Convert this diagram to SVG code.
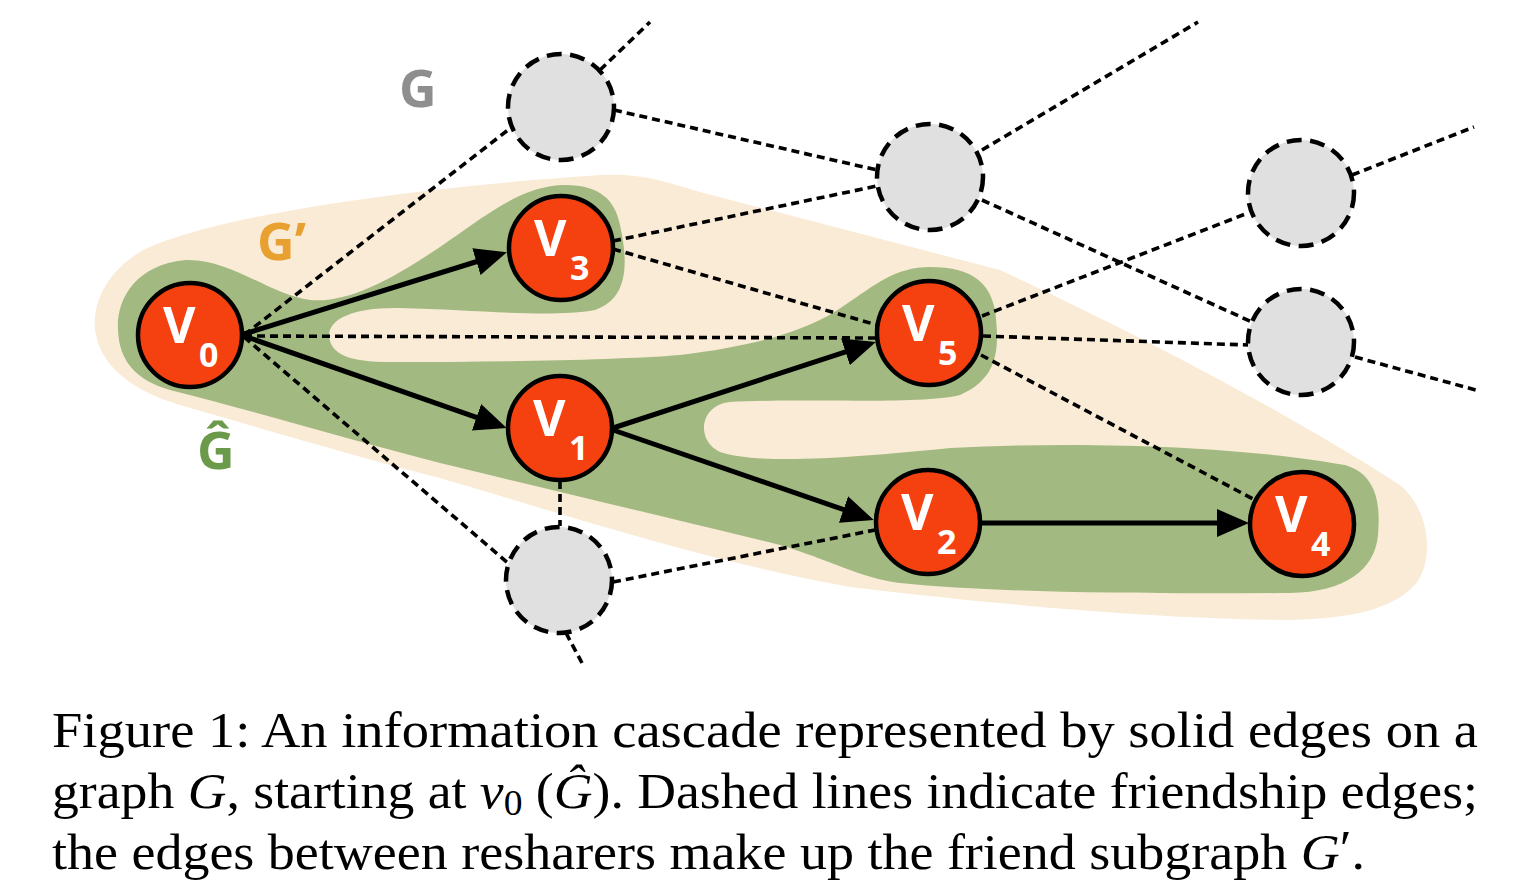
<svg xmlns="http://www.w3.org/2000/svg" width="1540" height="894" viewBox="0 0 1540 894">
<style>
.dash{stroke:#000;stroke-width:3.6;stroke-dasharray:8 5;fill:none}
.solid{stroke:#000;stroke-width:5;fill:none}
.node{fill:#F5410F;stroke:#000;stroke-width:4.5}
.ghost{fill:#E0E0E0;stroke:#000;stroke-width:4.5;stroke-dasharray:15 8.5}
.lbl{font-family:"Open Sans","DejaVu Sans",sans-serif;font-weight:700;font-size:50px;fill:#fff}
.sub{font-size:34px}
.glabel{font-family:"Open Sans","DejaVu Sans",sans-serif;font-weight:700;font-size:52px}
.cap{font-family:"Liberation Serif","Times New Roman",serif;font-size:50px;fill:#000}
.it{font-style:italic}
</style>
<defs>
<marker id="arrow" markerUnits="userSpaceOnUse" markerWidth="32" markerHeight="28" viewBox="0 0 32 28" refX="9" refY="14" orient="auto">
<path d="M0,0 L32,14 L0,28 Z" fill="#000"/>
</marker>
</defs>
<g id="regions">
<path id="region-gprime" fill="#FAEBD6" d="M95,330 C92,300 110,270 140,252 C200,220 380,190 600,175 C640,173 660,180 700,192 L1000,270 C1150,340 1300,420 1400,485 C1430,510 1435,560 1415,585 C1390,612 1340,620 1280,620 C1150,618 1000,605 850,587 C700,560 550,510 440,478 C350,455 250,425 180,405 C130,390 100,365 95,330 Z"/>
<path id="region-ghat" fill="#A2BA81" d="M118,330 C116,300 135,265 185,260 C230,258 270,295 310,300 C350,304 400,275 450,240 C490,212 525,185 565,185 C600,185 615,200 620,225 C630,270 625,300 595,310 C550,318 480,310 400,308 C355,307 330,318 329,335 C330,355 350,362 390,362 C500,362 620,360 680,355 C760,345 810,330 845,305 C875,285 895,267 930,267 C975,267 990,285 995,310 C1000,350 998,378 960,395 C920,405 800,398 730,402 C700,405 695,440 720,452 C760,465 850,458 950,448 C1100,440 1250,448 1345,465 C1380,475 1380,510 1378,535 C1375,570 1345,592 1290,593 C1150,594 1000,593 900,583 C860,578 830,560 780,545 C700,525 550,490 440,463 C350,440 250,410 170,390 C135,380 119,360 118,330 Z"/>
</g>
<g id="labels">
<text class="glabel" x="399" y="107" fill="#8E8E8E">G</text>
<text class="glabel" x="257" y="260" fill="#E8A030">G’</text>
<text class="glabel" x="197" y="469" fill="#6C9A4B">Ĝ</text>
</g>
<g id="connectors">
<line class="dash" x1="244" y1="335" x2="508" y2="130"/>
<line class="dash" x1="600" y1="70" x2="650" y2="22"/>
<line class="dash" x1="614" y1="110" x2="877" y2="170"/>
<line class="dash" x1="982" y1="150" x2="1198" y2="22"/>
<line class="dash" x1="613" y1="241" x2="877" y2="186"/>
<line class="dash" x1="613" y1="249" x2="877" y2="325"/>
<line class="dash" x1="982" y1="200" x2="1252" y2="322"/>
<line class="dash" x1="244" y1="336" x2="877" y2="338"/>
<line class="dash" x1="982" y1="316" x2="1248" y2="213"/>
<line class="dash" x1="983" y1="336" x2="1248" y2="345"/>
<line class="dash" x1="981" y1="355" x2="1255" y2="500"/>
<line class="dash" x1="1352" y1="175" x2="1474" y2="127"/>
<line class="dash" x1="1355" y1="357" x2="1476" y2="390"/>
<line class="dash" x1="244" y1="337" x2="508" y2="563"/>
<line class="dash" x1="560" y1="481" x2="560" y2="526"/>
<line class="dash" x1="613" y1="582" x2="875" y2="530"/>
<line class="dash" x1="566" y1="633" x2="582" y2="663"/>
<line class="solid" x1="244" y1="334" x2="485" y2="259" marker-end="url(#arrow)"/>
<line class="solid" x1="244" y1="336" x2="485" y2="420.3" marker-end="url(#arrow)"/>
<line class="solid" x1="613" y1="428" x2="854" y2="349.1" marker-end="url(#arrow)"/>
<line class="solid" x1="613" y1="430" x2="852" y2="512.5" marker-end="url(#arrow)"/>
<line class="solid" x1="981" y1="523" x2="1226" y2="523" marker-end="url(#arrow)"/>
</g>
<g id="node-a"><circle class="ghost" cx="561" cy="107" r="53"/></g>
<g id="node-b"><circle class="ghost" cx="930" cy="177" r="53"/></g>
<g id="node-c"><circle class="ghost" cx="1301" cy="193" r="53"/></g>
<g id="node-d"><circle class="ghost" cx="1301" cy="342" r="53"/></g>
<g id="node-e"><circle class="ghost" cx="559" cy="580" r="53"/></g>
<g id="node-v0"><circle class="node" cx="190" cy="335" r="52"/><text class="lbl" x="163" y="343">V<tspan class="sub" x="199" y="367">0</tspan></text></g>
<g id="node-v3"><circle class="node" cx="561" cy="248" r="52"/><text class="lbl" x="534" y="256">V<tspan class="sub" x="570" y="280">3</tspan></text></g>
<g id="node-v1"><circle class="node" cx="560" cy="428" r="52"/><text class="lbl" x="533" y="436">V<tspan class="sub" x="569" y="460">1</tspan></text></g>
<g id="node-v5"><circle class="node" cx="929" cy="333" r="52"/><text class="lbl" x="902" y="341">V<tspan class="sub" x="938" y="365">5</tspan></text></g>
<g id="node-v2"><circle class="node" cx="928" cy="522" r="52"/><text class="lbl" x="901" y="530">V<tspan class="sub" x="937" y="554">2</tspan></text></g>
<g id="node-v4"><circle class="node" cx="1302" cy="524" r="52"/><text class="lbl" x="1275" y="532">V<tspan class="sub" x="1311" y="556">4</tspan></text></g>
<g id="caption">
<text class="cap" x="52" y="747" textLength="1426" lengthAdjust="spacingAndGlyphs">Figure 1:  An information cascade represented by solid edges on a</text>
<text class="cap" x="52" y="808" textLength="1426" lengthAdjust="spacingAndGlyphs">graph <tspan class="it">G</tspan>, starting at <tspan class="it">v</tspan><tspan font-size="35" dy="7">0</tspan><tspan dy="-7"> (</tspan><tspan class="it">Ĝ</tspan>). Dashed lines indicate friendship edges;</text>
<text class="cap" x="52" y="869" textLength="1313" lengthAdjust="spacingAndGlyphs">the edges between resharers make up the friend subgraph <tspan class="it">G</tspan><tspan dy="-4">′</tspan><tspan dy="4">.</tspan></text>
</g>
</svg>
